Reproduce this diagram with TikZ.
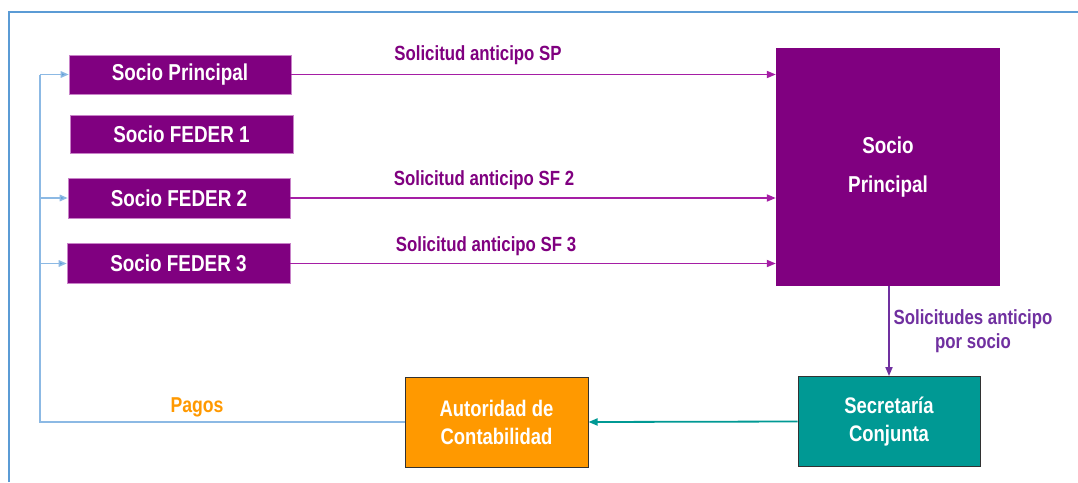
\documentclass[tikz,border=0pt]{standalone}
\usepackage{fontspec}
\setmainfont{Liberation Sans}[FakeStretch=0.82]
\usetikzlibrary{arrows.meta}
\definecolor{boxpurple}{RGB}{128,0,128}
\definecolor{arrpurple}{RGB}{165,30,165}
\definecolor{lblpurple}{RGB}{128,0,128}
\definecolor{violet2}{RGB}{112,48,160}
\definecolor{orangebox}{RGB}{255,153,0}
\definecolor{tealbox}{RGB}{0,153,148}
\definecolor{frameblue}{RGB}{91,155,213}
\definecolor{lightblue}{RGB}{140,185,228}
\tikzset{
  x=1pt, y=-1pt,
  pbox/.style={fill=boxpurple, draw={rgb,255:red,200;green,130;blue,200}, line width=0.6pt,
    text=white, font=\fontsize{23}{26}\selectfont\bfseries, inner sep=0pt,
    minimum width=222pt, minimum height=39pt},
  lowbox/.style={draw={rgb,255:red,50;green,50;blue,50}, line width=1pt, text=white,
    font=\fontsize{22.5}{28}\selectfont\bfseries, align=center, inner sep=0pt,
    minimum height=90pt},
  parr/.style={draw=arrpurple, line width=1.8pt, -{Triangle[length=9pt,width=7pt]}},
  plabel/.style={text=lblpurple, font=\fontsize{20.5}{24}\selectfont\bfseries, inner sep=0pt},
  barr/.style={draw=lightblue, line width=1.5pt},
  btip/.style={-{Triangle[length=8pt,width=6.5pt,fill=frameblue]}},
}
\begin{document}
\begin{tikzpicture}
\useasboundingbox (0,0) rectangle (1078,482);
\fill[white] (0,0) rectangle (1078,482);
% frame
\draw[frameblue, line width=2pt] (9,482) -- (9,12) -- (1078,12);

% left nodes
\node[pbox] (sp) at (180,74.5) {Socio Principal};
\node[pbox, minimum width=223pt, minimum height=38pt] (f1) at (181.5,134) {Socio FEDER 1};
\node[pbox, minimum height=40pt] (f2) at (179,198) {Socio FEDER 2};
\node[pbox, minimum width=223pt, minimum height=40pt] (f3) at (178.5,263.5) {Socio FEDER 3};

% big box
\node[fill=boxpurple, minimum width=224pt, minimum height=238pt, inner sep=0pt,
  text=white, font=\fontsize{23}{39}\selectfont\bfseries, align=center] (big) at (888,167) {Socio\\Principal};

% bottom boxes
\node[lowbox, fill=tealbox, minimum width=182pt] (sc) at (889,421.5) {Secretaría\\Conjunta};
\node[lowbox, fill=orangebox, minimum width=183pt] (ac) at (496.5,422) {Autoridad de\\Contabilidad};

% purple arrows
\draw[parr] (sp.east) -- (sp.east -| big.west);
\draw[parr] (f2.east) -- (f2.east -| big.west);
\draw[parr] (f3.east) -- (f3.east -| big.west);
\node[plabel] (l1) at (478,55) {Solicitud anticipo SP};
\node[plabel] (l2) at (484,180) {Solicitud anticipo SF 2};
\node[plabel] (l3) at (486,246) {Solicitud anticipo SF 3};

% down arrow
\draw[draw=violet2, line width=1.8pt, -{Triangle[length=9pt,width=7pt]}] (big.south -| sc.north) -- (sc.north);
\node[text=violet2, font=\fontsize{20.5}{24}\selectfont\bfseries, align=center, inner sep=0pt] (l4) at (973,331) {Solicitudes anticipo\\por socio};

% teal arrow
\draw[draw=tealbox, line width=1.8pt, -{Triangle[length=9pt,width=7pt]}] (sc.west) -- (ac.east);

% payments feedback
\coordinate (c1) at (40,422);
\coordinate (c2) at (40,74.5);
\coordinate (c3) at (40,198);
\coordinate (c4) at (40,263.5);
\draw[barr] (ac.west) -- (c1) -- (c2);
\draw[barr, btip] (c2) -- (sp.west);
\draw[barr, btip] (c3) -- (f2.west);
\draw[barr, btip] (c4) -- (f3.west);
\node[text=orangebox, font=\fontsize{21.5}{24}\selectfont\bfseries, inner sep=0pt] (pg) at (197,407) {Pagos};
\end{tikzpicture}
\end{document}
